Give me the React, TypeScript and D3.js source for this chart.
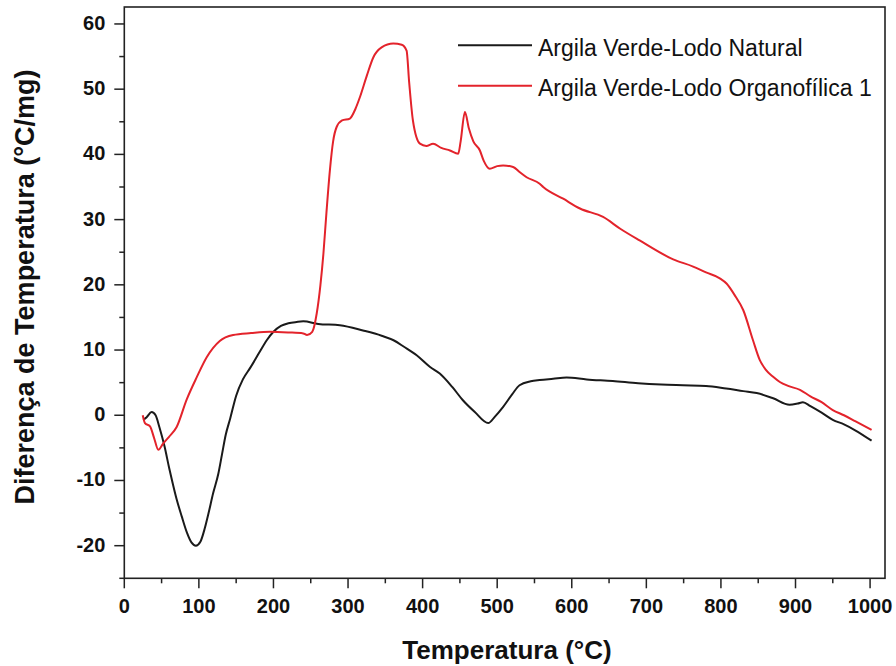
import * as d3 from 'd3';
import React, { useRef, useEffect } from 'react';

// Argila Verde-Lodo Natural (black)
const natX = [25.5, 30, 36.7, 42, 47, 54, 60, 64, 70, 77, 84, 90, 96, 102, 108, 113, 119, 126, 131, 136, 142, 150, 159, 169, 182, 191, 200, 210, 220, 231, 240, 260, 289, 320, 345, 361, 375, 392, 410, 423, 440, 454, 470, 488, 497, 508, 520, 530, 545, 557, 575, 593, 620, 655, 689, 720, 749, 780, 807, 830, 848, 870, 892, 903, 910, 920, 935, 950, 965, 980, 1002];
const natY = [-0.7, -0.3, 0.5, 0, -1.8, -4.8, -8, -10, -12.8, -15.5, -18, -19.5, -20, -19.4, -17.3, -15, -12, -9, -6, -3, -0.5, 3, 5.5, 7.3, 9.8, 11.5, 12.8, 13.7, 14.1, 14.3, 14.4, 14.0, 13.8, 13, 12.2, 11.5, 10.5, 9.2, 7.4, 6.4, 4.3, 2.3, 0.5, -1.2, -0.2, 1.3, 3.2, 4.6, 5.2, 5.4, 5.6, 5.8, 5.5, 5.25, 4.9, 4.7, 4.6, 4.5, 4.1, 3.7, 3.4, 2.6, 1.6, 1.8, 2.0, 1.4, 0.4, -0.7, -1.4, -2.3, -3.9];

// Argila Verde-Lodo Organofílica 1 (red)
const orgX = [24.7, 27.7, 34.5, 40, 45.6, 52.3, 60, 70.2, 83.6, 97, 110.5, 128, 146, 170, 195, 220, 240, 245, 252, 258, 263, 267, 271, 275.7, 280, 284.7, 292, 302.5, 310, 316, 325, 334, 345, 360.6, 372, 378.5, 382, 387, 396.4, 405, 414, 425, 436.6, 447.7, 451, 456.7, 462, 468, 476.8, 482, 490, 500, 508, 521.4, 530, 539.4, 557, 561.7, 588.5, 611, 642, 665, 691, 736, 762.7, 780, 798.5, 807.5, 818, 830, 843, 852, 860, 870, 879, 890, 906, 920, 935, 950, 965, 980, 1002];
const orgY = [0, -1.2, -1.7, -3.5, -5.3, -4.3, -3.3, -1.8, 2.4, 5.8, 8.9, 11.4, 12.3, 12.6, 12.8, 12.7, 12.55, 12.3, 12.8, 15.6, 20, 24.8, 31, 37.6, 42, 44.2, 45.2, 45.5, 47, 48.8, 52, 54.9, 56.4, 57, 56.8, 55.9, 51, 45.2, 41.65, 41.3, 41.65, 41, 40.6, 40.1, 42, 46.5, 44, 42, 40.6, 39, 37.8, 38.2, 38.3, 38.07, 37.3, 36.5, 35.5, 35, 33.2, 31.7, 30.4, 28.6, 26.8, 23.9, 22.8, 21.9, 21, 20.2, 18.5, 16.1, 11.5, 8.5, 7, 5.9, 5.1, 4.5, 3.9, 2.9, 2, 0.8, 0, -0.9, -2.25];

const xTicks = [0, 100, 200, 300, 400, 500, 600, 700, 800, 900, 1000];
const yTicks = [-20, -10, 0, 10, 20, 30, 40, 50, 60];
const seriesNames = ['Argila Verde-Lodo Natural', 'Argila Verde-Lodo Organofílica 1'];
const seriesColors = ['#1a1a1a', '#e3232b'];

const width = 896;
const height = 666;
const left = 124.3, right = 885, top = 7, bottom = 578.3;
const font = '"Liberation Sans", Arial, sans-serif';

export default function App() {
    const svgRef = useRef(null);

    useEffect(() => {
        const svg = d3.select(svgRef.current);
        svg.selectAll('*').remove();

        const x = d3.scaleLinear().domain([0, 1020]).range([left, right]);
        const y = d3.scaleLinear().domain([-25, 62.6]).range([bottom, top]);

        // frame
        svg.append('rect')
            .attr('x', left).attr('y', top)
            .attr('width', right - left).attr('height', bottom - top)
            .attr('fill', 'none').attr('stroke', '#222').attr('stroke-width', 1.6);

        // x ticks
        const xMinor = d3.range(50, 1020, 100);
        svg.append('g').selectAll('line').data(xTicks).enter().append('line')
            .attr('x1', d => x(d)).attr('x2', d => x(d))
            .attr('y1', bottom).attr('y2', bottom + 10)
            .attr('stroke', '#222').attr('stroke-width', 1.5);
        svg.append('g').selectAll('line').data(xMinor).enter().append('line')
            .attr('x1', d => x(d)).attr('x2', d => x(d))
            .attr('y1', bottom).attr('y2', bottom + 5)
            .attr('stroke', '#222').attr('stroke-width', 1.5);
        svg.append('g').selectAll('text').data(xTicks).enter().append('text')
            .attr('x', d => x(d)).attr('y', bottom + 35)
            .attr('text-anchor', 'middle')
            .style('font-family', font).style('font-weight', 'bold').style('font-size', '20px')
            .attr('fill', '#111')
            .text(d => d);

        // y ticks
        const yMinor = d3.range(-25, 62, 10);
        svg.append('g').selectAll('line').data(yTicks).enter().append('line')
            .attr('x1', left - 10).attr('x2', left)
            .attr('y1', d => y(d)).attr('y2', d => y(d))
            .attr('stroke', '#222').attr('stroke-width', 1.5);
        svg.append('g').selectAll('line').data(yMinor).enter().append('line')
            .attr('x1', left - 5).attr('x2', left)
            .attr('y1', d => y(d)).attr('y2', d => y(d))
            .attr('stroke', '#222').attr('stroke-width', 1.5);
        svg.append('g').selectAll('text').data(yTicks).enter().append('text')
            .attr('x', left - 19).attr('y', d => y(d))
            .attr('dy', '0.3em')
            .attr('text-anchor', 'end')
            .style('font-family', font).style('font-weight', 'bold').style('font-size', '20px')
            .attr('fill', '#111')
            .text(d => d);

        // axis titles
        svg.append('text')
            .attr('x', 507).attr('y', 659)
            .attr('text-anchor', 'middle')
            .style('font-family', font).style('font-weight', 'bold').style('font-size', '26px')
            .attr('fill', '#111')
            .text('Temperatura (°C)');
        svg.append('text')
            .attr('transform', 'translate(34, 287) rotate(-90)')
            .attr('text-anchor', 'middle')
            .style('font-family', font).style('font-weight', 'bold').style('font-size', '27px')
            .attr('fill', '#111')
            .text('Diferença de Temperatura (°C/mg)');

        // curves
        const line = d3.line()
            .x(d => x(d[0]))
            .y(d => y(d[1]))
            .curve(d3.curveMonotoneX);

        const series = [
            natX.map((v, i) => [v, natY[i]]),
            orgX.map((v, i) => [v, orgY[i]]),
        ];
        series.forEach((pts, i) => {
            svg.append('path')
                .attr('d', line(pts))
                .attr('fill', 'none')
                .attr('stroke', seriesColors[i])
                .attr('stroke-width', 2)
                .attr('stroke-linejoin', 'round');
        });

        // legend
        const lg = svg.append('g');
        seriesNames.forEach((name, i) => {
            const ly = 45.3 + i * 40.5;
            lg.append('line')
                .attr('x1', 458).attr('x2', 532)
                .attr('y1', ly).attr('y2', ly)
                .attr('stroke', seriesColors[i]).attr('stroke-width', 2);
            lg.append('text')
                .attr('x', 538).attr('y', ly + 10.5)
                .style('font-family', font).style('font-size', '23px')
                .attr('fill', '#111')
                .text(name);
        });
    });

    return (
        <svg ref={svgRef} width={width} height={height}
            style={{ position: 'absolute', left: 0, top: 0, background: '#fff' }}></svg>
    );
}
